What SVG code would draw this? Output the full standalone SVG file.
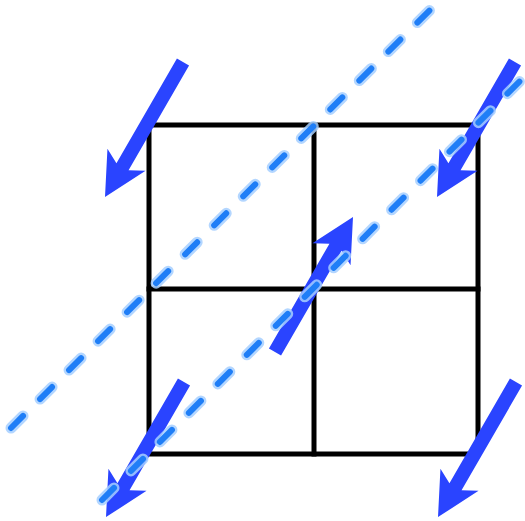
<svg xmlns="http://www.w3.org/2000/svg" width="525" height="521" viewBox="0 0 525 521">
<style>
.grid{stroke:#000;stroke-width:5;fill:none;stroke-linecap:square}
.arrow{fill:#2a44ff}
.halo{stroke:#a6cfff;stroke-width:11;stroke-linecap:round;fill:none;stroke-dasharray:17 24;opacity:0.85}
.core{stroke:#1f7ef7;stroke-width:6;stroke-linecap:round;fill:none;stroke-dasharray:17 24}
</style>
<defs>
<path id="arr" d="M0,-7 L121,-7 L113,-22 L156,0 L113,22 L121,7 L0,7 Z"/>
</defs>
<rect width="525" height="521" fill="#fff"/>
<g id="grid">
<rect class="grid" x="149" y="125" width="329" height="329"/>
<line class="grid" x1="314" y1="125" x2="314" y2="454"/>
<line class="grid" x1="149" y1="289" x2="478" y2="289"/>
</g>
<g id="arrows">
<use href="#arr" class="arrow" transform="translate(183,62) rotate(120)"/>
<use href="#arr" class="arrow" transform="translate(515,62) rotate(120)"/>
<use href="#arr" class="arrow" transform="translate(275,352) rotate(-60)"/>
<use href="#arr" class="arrow" transform="translate(184,382) rotate(120)"/>
<use href="#arr" class="arrow" transform="translate(516,382) rotate(120)"/>
</g>
<g id="dashed">
<line class="halo" x1="11" y1="428" x2="433" y2="7"/>
<line class="core" x1="11" y1="428" x2="433" y2="7"/>
<line class="halo" x1="102" y1="500" x2="523" y2="78"/>
<line class="core" x1="102" y1="500" x2="523" y2="78"/>
</g>
</svg>
